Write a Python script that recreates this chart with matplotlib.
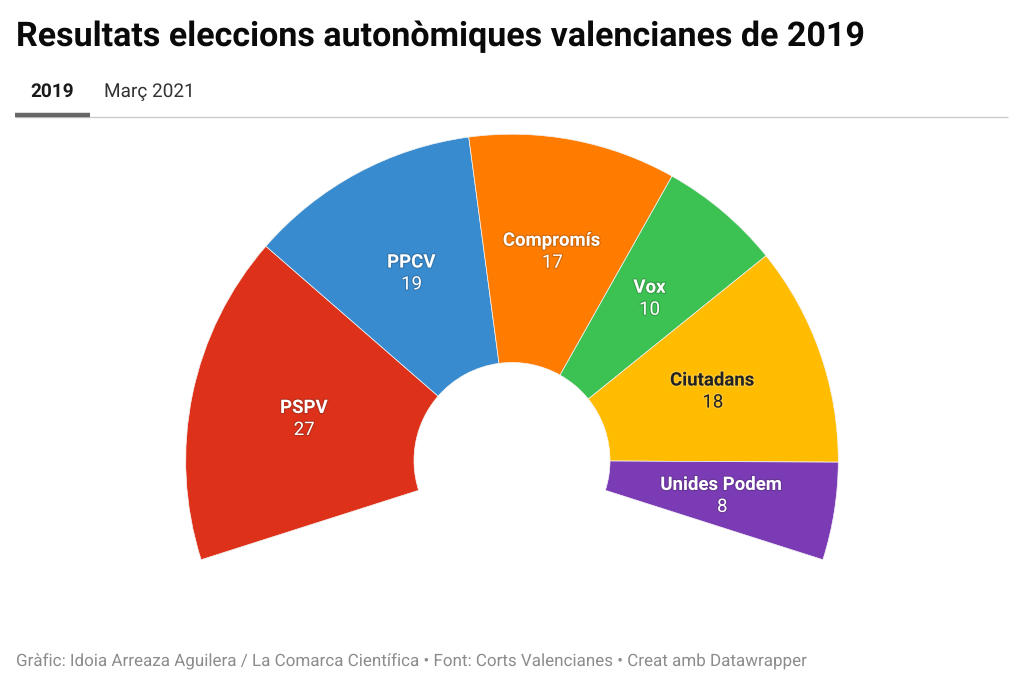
import numpy as np
import matplotlib
matplotlib.use("Agg")
import matplotlib.pyplot as plt
from matplotlib import patheffects as pe

parties = ["PSPV", "PPCV", "Compromís", "Vox", "Ciutadans", "Unides Podem"]
seats = [27, 19, 17, 10, 18, 8]
colors = ["#dd3119", "#398bd0", "#ff7c00", "#3cc153", "#ffbc00", "#7a3bb5"]
text_colors = ["white", "white", "white", "white", "#222222", "white"]
title = "Resultats eleccions autonòmiques valencianes de 2019"
tabs = ["2019", "Març 2021"]
source = "Gràfic: Idoia Arreaza Aguilera / La Comarca Científica • Font: Corts Valencianes • Creat amb Datawrapper"

plt.rcParams["font.family"] = ["Roboto", "DejaVu Sans"]
plt.rcParams["text.hinting"] = "no_hinting"
plt.rcParams["text.hinting_factor"] = 1
W, H = 1024, 699
fig = plt.figure(figsize=(W / 100, H / 100), dpi=100, facecolor="white")
ax = fig.add_axes([0, 0, 1, 1])

CX, CY, R, r = 512, H - 460.5, 326.3, 98
START, SWEEP = 197.7, 215.4
total = sum(seats)
pie_total = total * 360.0 / SWEEP
ax.pie(seats + [pie_total - total], colors=colors + ["none"], startangle=START,
       counterclock=False, radius=R, center=(CX, CY), frame=True,
       wedgeprops=dict(width=R - r, edgecolor="none", linewidth=0))
for w in ax.patches[:len(seats)]:
    w.set_edgecolor("#f4f4f4")
    w.set_linewidth(0.5)
ax.patches[len(seats)].set_visible(False)

ax.set_xlim(0, W)
ax.set_ylim(0, H)
ax.set_aspect("equal")
ax.axis("off")

cum = np.cumsum([0] + seats)
lab_rx, lab_ry = 212.5, 214.5
for i, (p, s) in enumerate(zip(parties, seats)):
    mid = np.deg2rad(START - (cum[i] + s / 2) * SWEEP / total)
    x = CX + 0.5 + lab_rx * np.cos(mid)
    y = CY - 1.7 + lab_ry * np.sin(mid)
    tc = text_colors[i]
    halo = "#222222" if tc == "white" else "#ffffff"
    eff = [pe.withStroke(linewidth=1.6, foreground=halo, alpha=0.22)]
    ax.text(x, y + 11, p, ha="center", va="center", fontsize=13.4, fontweight="bold",
            color=tc, path_effects=eff)
    ax.text(x, y - 11, str(s), ha="center", va="center", fontsize=13.4,
            color=tc, path_effects=eff)

ax.text(16, H - 37, title, fontsize=24.5, fontweight="bold", color="#0a0a0a", va="center", ha="left")
ax.text(52, H - 92, tabs[0], fontsize=13.6, fontweight="bold", color="#1a1a1a", va="center", ha="center")
ax.text(149, H - 92, tabs[1], fontsize=13.35, color="#333333", va="center", ha="center")
ax.plot([15, 1008], [H - 117, H - 117], color="#cccccc", lw=1.0, solid_capstyle="butt")
ax.plot([15, 90], [H - 114.5, H - 114.5], color="#666666", lw=3.2, solid_capstyle="butt")
ax.text(16, H - 662, source, fontsize=12.27, color="#8c8c8c", va="center", ha="left")

fig.savefig("out.png", dpi=100, facecolor="white")
